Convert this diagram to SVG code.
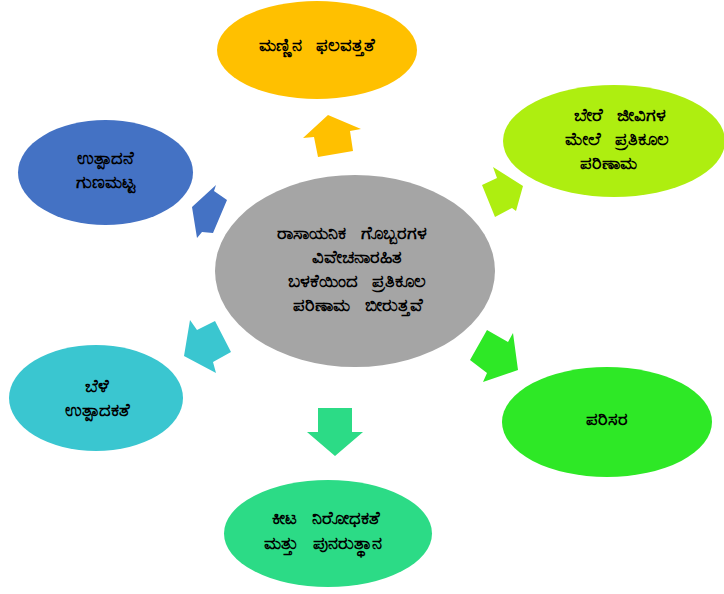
<svg xmlns="http://www.w3.org/2000/svg" width="724" height="594" viewBox="0 0 724 594">
<style>
text{font-family:"Noto Sans","DejaVu Sans",sans-serif;font-size:18px;font-weight:bold;fill:#000;text-anchor:middle;dominant-baseline:central;word-spacing:10px}
.y{fill:#FFC000}.lg{fill:#AEEE10}.b{fill:#4472C4}.g{fill:#A5A5A5}.c{fill:#3AC6D0}.gr{fill:#2EE826}.m{fill:#2CDB86}
</style>
<rect width="724" height="594" fill="#fff"/>
<g id="connectors">
<polygon class="y" points="328,115 361,129 350,131 353,151 318,157 314,137 303,138"/>
<polygon class="lg" points="523,186 516,211 512,208 495,217 482,185 497,178 493,167"/>
<polygon class="b" points="192,207 216,185 214,191 227,200 213,233 202,232 197,238"/>
<polygon class="c" points="184,356 190,320 197,330 215,321 231,352 213,362 216,373"/>
<polygon class="gr" points="518,370 483,382 487,373 470,360 487,330 508,342 513,333"/>
<polygon class="m" points="335,456 307,432 318,432 318,408 352,408 352,432 363,432"/>
</g>
<g id="center">
<ellipse class="g" cx="355" cy="271" rx="140" ry="96"/>
<text x="352" y="232">ರಾಸಾಯನಿಕ ಗೊಬ್ಬರಗಳ</text>
<text x="357" y="256">ವಿವೇಚನಾರಹಿತ</text>
<text x="357" y="280">ಬಳಕೆಯಿಂದ ಪ್ರತಿಕೂಲ</text>
<text x="358" y="304">ಪರಿಣಾಮ ಬೀರುತ್ತವೆ</text>
</g>
<g id="soil">
<ellipse class="y" cx="317" cy="50" rx="100" ry="49"/>
<text x="317" y="44">ಮಣ್ಣಿನ ಫಲವತ್ತತೆ</text>
</g>
<g id="other-organisms">
<ellipse class="lg" cx="614" cy="141" rx="111" ry="56"/>
<text x="620" y="114">ಬೇರೆ ಜೀವಿಗಳ</text>
<text x="617" y="138">ಮೇಲೆ ಪ್ರತಿಕೂಲ</text>
<text x="608" y="162">ಪರಿಣಾಮ</text>
</g>
<g id="quality">
<ellipse class="b" cx="105.5" cy="172.5" rx="87.5" ry="52.5"/>
<text x="105" y="157">ಉತ್ಪಾದನೆ</text>
<text x="105" y="181">ಗುಣಮಟ್ಟ</text>
</g>
<g id="yield">
<ellipse class="c" cx="96" cy="398" rx="87" ry="53"/>
<text x="97" y="385">ಬೆಳೆ</text>
<text x="97" y="409">ಉತ್ಪಾದಕತೆ</text>
</g>
<g id="environment">
<ellipse class="gr" cx="607" cy="422" rx="105" ry="55"/>
<text x="607" y="418">ಪರಿಸರ</text>
</g>
<g id="pest">
<ellipse class="m" cx="328" cy="533.5" rx="104" ry="53.5"/>
<text x="326" y="517">ಕೀಟ ನಿರೋಧಕತೆ</text>
<text x="323" y="542">ಮತ್ತು ಪುನರುತ್ಥಾನ</text>
</g>
</svg>
